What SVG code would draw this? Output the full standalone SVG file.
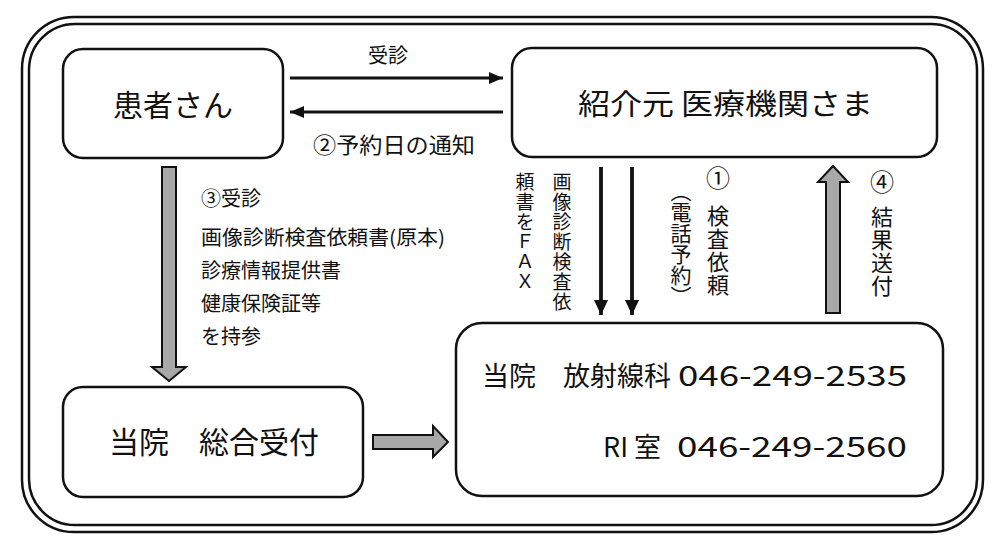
<svg xmlns="http://www.w3.org/2000/svg" width="1000" height="549" viewBox="0 0 1000 549">
<defs>
<style>
.t{font-family:"Noto Sans CJK JP","Noto Sans",sans-serif;fill:#111;}
.box{fill:#fff;stroke:#111;stroke-width:2.5;}
.frame{fill:none;stroke:#111;stroke-width:2.5;}
.ln{stroke:#111;stroke-width:3;fill:none;}
.lnv{stroke:#111;stroke-width:3.8;fill:none;}
.garrow{fill:#a8a8a8;stroke:#111;stroke-width:2;stroke-linejoin:miter;}
.v{writing-mode:vertical-rl;}
</style>
<marker id="ah" viewBox="0 0 14 12" refX="14" refY="6" markerWidth="14" markerHeight="12" markerUnits="userSpaceOnUse" orient="auto">
<path d="M0,0 L14,6 L0,12 Z" fill="#111"/>
</marker>
<marker id="ahv" viewBox="0 0 15 14" refX="15" refY="7" markerWidth="15" markerHeight="14" markerUnits="userSpaceOnUse" orient="auto">
<path d="M0,0 L15,7 L0,14 Z" fill="#111"/>
</marker>
</defs>
<rect width="1000" height="549" fill="#fff"/>
<g id="frame">
<rect class="frame" x="22" y="17" width="961" height="515" rx="52"/>
<rect class="frame" x="29" y="24" width="948" height="501" rx="46"/>
</g>
<g id="patient">
<rect class="box" x="63" y="49" width="220" height="109" rx="20"/>
<text class="t" x="173" y="116" font-size="30" text-anchor="middle">患者さん</text>
</g>
<g id="referrer">
<rect class="box" x="512" y="48" width="425" height="109" rx="20"/>
<text class="t" x="578" y="115" font-size="29" textLength="295" lengthAdjust="spacingAndGlyphs">紹介元 医療機関さま</text>
</g>
<g id="reception">
<rect class="box" x="63" y="387" width="300" height="110" rx="20"/>
<text class="t" x="214" y="453" font-size="30" text-anchor="middle">当院　総合受付</text>
</g>
<g id="radiology">
<rect class="box" x="456" y="323" width="487" height="173" rx="26"/>
<text class="t" x="482" y="386" font-size="27">当院　放射線科</text>
<text class="t" x="678" y="386" font-size="28" textLength="229" lengthAdjust="spacingAndGlyphs">046-249-2535</text>
<text class="t" x="603" y="457" font-size="27">RI 室</text>
<text class="t" x="677" y="457" font-size="28" textLength="230" lengthAdjust="spacingAndGlyphs">046-249-2560</text>
</g>
<g id="connectors">
<line class="ln" x1="290" y1="78" x2="503" y2="78" marker-end="url(#ah)"/>
<line class="ln" x1="503" y1="112" x2="290" y2="112" marker-end="url(#ah)"/>
<text class="t" x="388" y="63" font-size="20" text-anchor="middle">受診</text>
<text class="t" x="394" y="153" font-size="22" text-anchor="middle" textLength="162" lengthAdjust="spacingAndGlyphs">②予約日の通知</text>
<path class="garrow" d="M162,167 H176 V367 H186 L169,381 L152,367 H162 Z"/>
<g class="t" font-size="20">
<text x="201" y="206">③受診</text>
<text x="201" y="245" textLength="244" lengthAdjust="spacingAndGlyphs">画像診断検査依頼書(原本)</text>
<text x="201" y="278">診療情報提供書</text>
<text x="201" y="311">健康保険証等</text>
<text x="201" y="344">を持参</text>
</g>
<path class="garrow" d="M373,435 H433 V426 L448,442 L433,457 V449 H373 Z"/>
<line class="lnv" x1="601" y1="167" x2="601" y2="315" marker-end="url(#ahv)"/>
<line class="lnv" x1="632" y1="167" x2="632" y2="315" marker-end="url(#ahv)"/>
<text class="t v" x="562" y="172" font-size="19" letter-spacing="1">画像診断検査依</text>
<text class="t v" x="525" y="172" font-size="19" letter-spacing="1">頼書をＦＡＸ</text>
<text class="t v" x="681" y="181" font-size="21">（電話予約）</text>
<text class="t" x="718" y="187" font-size="24" text-anchor="middle">①</text>
<text class="t v" x="718" y="205" font-size="22" letter-spacing="1">検査依頼</text>
<path class="garrow" d="M826,313 V182 H818 L833,166 L848,182 H840 V313 Z"/>
<text class="t" x="882" y="191" font-size="24" text-anchor="middle">④</text>
<text class="t v" x="882" y="206" font-size="22" letter-spacing="1">結果送付</text>
</g>
</svg>
